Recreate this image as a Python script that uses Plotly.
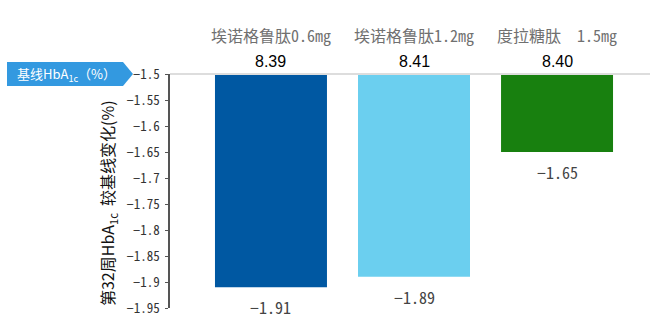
import plotly.graph_objects as go

categories = ["埃诺格鲁肽0.6mg", "埃诺格鲁肽1.2mg", "度拉糖肽  1.5mg"]
baseline_hba1c = [8.39, 8.41, 8.40]
change_values = [-1.91, -1.89, -1.65]
bar_colors = ["#0058A2", "#6BCFEF", "#18800F"]
y_base = -1.5
tick_vals = [-1.5, -1.55, -1.6, -1.65, -1.7, -1.75, -1.8, -1.85, -1.9, -1.95]
tick_text = ["−1.5", "−1.55", "−1.6", "−1.65", "−1.7", "−1.75", "−1.8", "−1.85", "−1.9", "−1.95"]

CJK = "Noto Sans CJK SC"
MONO = "Noto Sans Mono CJK SC, DejaVu Sans Mono, monospace"
xpos = list(range(len(categories)))

fig = go.Figure()
fig.add_trace(go.Bar(
    x=xpos,
    y=[v - y_base for v in change_values],
    base=[y_base] * len(change_values),
    marker=dict(color=bar_colors, line=dict(width=0)),
    width=0.783,
    hoverinfo="skip",
))

ann = []
for i, (c, b, v) in enumerate(zip(categories, baseline_hba1c, change_values)):
    ann.append(dict(x=i, y=1.1667, xref="x", yref="paper", text=c, showarrow=False,
                    xanchor="center", yanchor="middle",
                    font=dict(family=MONO, size=16, color="#707070")))
    ann.append(dict(x=i, y=1.0513, xref="x", yref="paper", text=f"{b:.2f}", showarrow=False,
                    xanchor="center", yanchor="middle",
                    font=dict(family="Liberation Sans", size=16, color="#000000")))
    ann.append(dict(x=i, y=v, xref="x", yref="y", text=f"−{abs(v):.2f}", showarrow=False,
                    xanchor="center", yanchor="middle",
                    yshift=-20, font=dict(family=MONO, size=16, color="#444444")))

ann.append(dict(x=-0.215, y=1.0, xref="paper", yref="paper",
                xanchor="center", yanchor="middle",
                text="基线HbA<sub>1c</sub>（%）", showarrow=False,
                font=dict(family=CJK, size=13, color="#ffffff")))
ann.append(dict(x=-0.129, y=0.449, xref="paper", yref="paper", textangle=-90,
                xanchor="center", yanchor="middle",
                text="第32周HbA<sub>1c</sub>  较基线变化(%)", showarrow=False,
                font=dict(family=CJK, size=16, color="#111111")))

shapes = [
    dict(type="path", xref="paper", yref="paper",
         path="M -0.3396 1.0513 L -0.0979 1.0513 L -0.0771 1.0 L -0.0979 0.9487 L -0.3396 0.9487 Z",
         fillcolor="#3399E0", line=dict(width=0)),
    dict(type="line", xref="paper", yref="paper", x0=0, x1=1, y0=1.0, y1=1.0,
         line=dict(color="#DDDDDD", width=2)),
]

fig.update_layout(
    width=650, height=335,
    margin=dict(l=170, r=0, t=74, b=27),
    paper_bgcolor="white", plot_bgcolor="white",
    font=dict(family=MONO, size=13, color="#333333"),
    showlegend=False,
    annotations=ann,
    shapes=shapes,
    xaxis=dict(range=[-0.706, 2.650], showticklabels=False, showgrid=False,
               zeroline=False, showline=False, ticks=""),
    yaxis=dict(range=[-1.95, -1.5], tickvals=tick_vals, ticktext=tick_text,
               showgrid=False, zeroline=False, showline=True, linecolor="#555555",
               linewidth=1.5, ticks="outside", ticklen=3, tickcolor="#555555",
               ticklabelstandoff=3),
)
fig.update_yaxes(tickfont=dict(family=MONO, size=13, color="#333333"))

fig.write_html("out.html")
